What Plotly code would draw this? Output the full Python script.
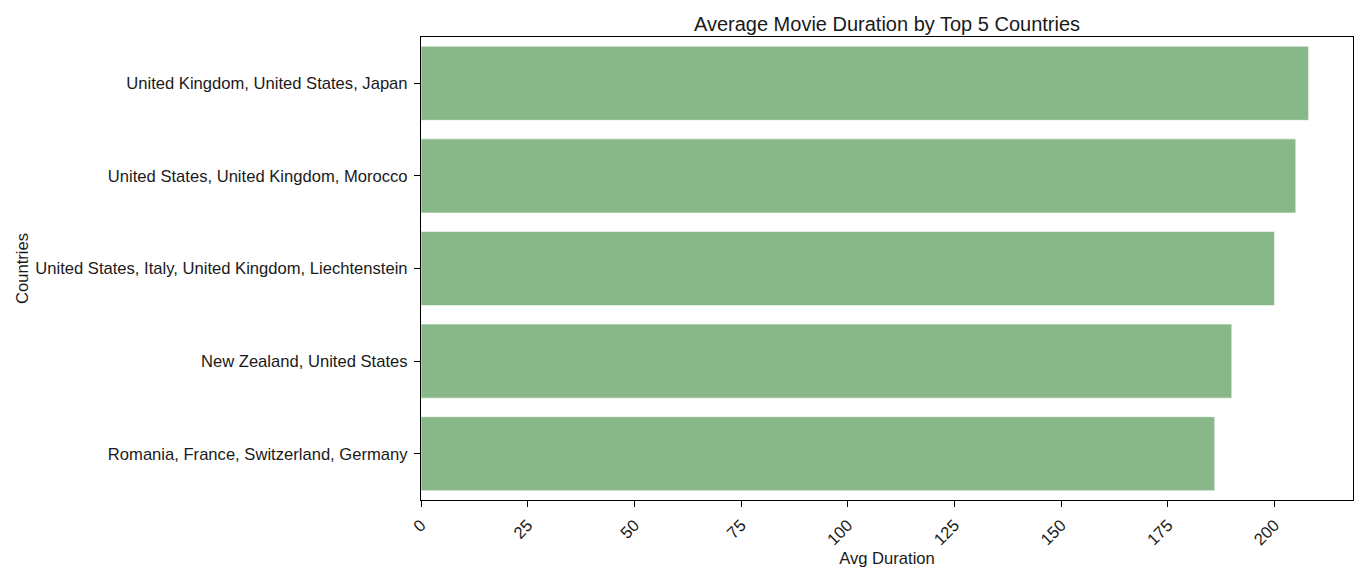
import plotly.graph_objects as go

countries = [
    "United Kingdom, United States, Japan",
    "United States, United Kingdom, Morocco",
    "United States, Italy, United Kingdom, Liechtenstein",
    "New Zealand, United States",
    "Romania, France, Switzerland, Germany",
]
avg_duration = [208, 205, 200, 190, 186]
x_ticks = [0, 25, 50, 75, 100, 125, 150, 175, 200]

FONT = "Liberation Sans, Arial, sans-serif"

fig = go.Figure(go.Bar(
    x=avg_duration,
    y=countries,
    orientation="h",
    width=0.8,
    marker=dict(color="rgb(136,183,136)", line=dict(color="rgba(255,255,255,0.6)", width=1)),
))

# page body adds an 8px offset; margins compensate
fig.update_layout(
    width=1372, height=576,
    margin=dict(l=413, r=27, t=29, b=84),
    paper_bgcolor="white", plot_bgcolor="white",
    font=dict(family=FONT, size=16.6, color="#1a1a1a"),
    title=dict(text="Average Movie Duration by Top 5 Countries", x=0.5, xref="paper",
               xanchor="center", y=1, yref="paper", yanchor="bottom", pad=dict(b=6),
               font=dict(family=FONT, size=20, color="#1a1a1a")),
    showlegend=False,
    bargap=0.2,
)
fig.update_xaxes(
    range=[0, max(avg_duration) * 1.05],
    tickvals=x_ticks, ticktext=[str(v) for v in x_ticks],
    tickangle=-45, ticks="outside", ticklen=6, tickcolor="black",
    tickfont=dict(size=16.6), ticklabelstandoff=2,
    showline=True, linecolor="black", linewidth=1.2, mirror=True,
    showgrid=False, zeroline=False,
    title=dict(text="Avg Duration", standoff=4, font=dict(size=16.6)),
)
fig.update_yaxes(
    autorange="reversed",
    ticks="outside", ticklen=6, tickcolor="black",
    tickfont=dict(size=16.6), ticklabelstandoff=3,
    showline=True, linecolor="black", linewidth=1.2, mirror=True,
    showgrid=False,
    title=dict(text="Countries", standoff=2, font=dict(size=16.6)),
)
fig.write_html("out.html")
